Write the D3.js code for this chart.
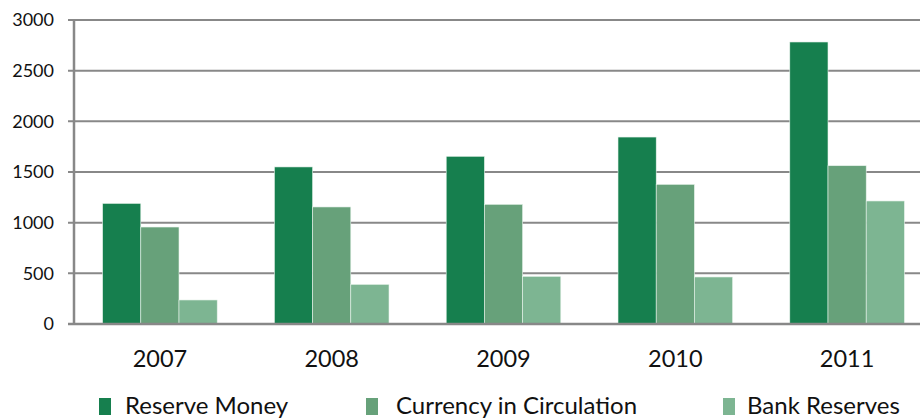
<!DOCTYPE html>
<html><head><meta charset="utf-8">
<script src="https://cdn.jsdelivr.net/npm/d3@7"></script>
<style>body{margin:0;background:#fff;overflow:hidden}svg{display:block}</style>
</head><body><svg id="c" width="920" height="418"></svg>
<script>
const categories = ["2007","2008","2009","2010","2011"];
const seriesNames = ["Reserve Money","Currency in Circulation","Bank Reserves"];
const reserveMoney = [1190, 1550, 1655, 1845, 2783];
const currencyInCirculation = [957, 1155, 1181, 1378, 1562];
const bankReserves = [237, 391, 470, 464, 1214];
const yTicks = [0, 500, 1000, 1500, 2000, 2500, 3000];
const colors = ["#167F4E", "#67A17A", "#7DB592"];

const series = [reserveMoney, currencyInCirculation, bankReserves];
const svg = d3.select("#c");
const font = "Lato, 'Open Sans', sans-serif";
const mLeft = 74, mRight = 933, mTop = 20, mBottom = 324;

const x = d3.scaleBand().domain(categories).range([mLeft, mRight]).paddingInner(0.333).paddingOuter(0.1665);
const xs = d3.scaleBand().domain(d3.range(series.length)).range([0, x.bandwidth()]);
const y = d3.scaleLinear().domain([0, 3000]).range([mBottom, mTop]);

// gridlines
svg.append("g").selectAll("line").data(yTicks.filter(d => d > 0)).join("line")
  .attr("x1", mLeft - 6).attr("x2", 920)
  .attr("y1", d => y(d)).attr("y2", d => y(d))
  .attr("stroke", "#888").attr("stroke-width", 2);

// bars
const g = svg.append("g");
categories.forEach((c, i) => {
  series.forEach((s, k) => {
    g.append("rect")
      .attr("x", x(c) + xs(k)).attr("width", xs.bandwidth())
      .attr("y", y(s[i])).attr("height", y(0) - y(s[i]))
      .attr("fill", colors[k]).attr("stroke", "#e8f3ec").attr("stroke-width", 0.6);
  });
});

// axes lines
svg.append("line").attr("x1", mLeft).attr("x2", mLeft).attr("y1", mTop - 1).attr("y2", mBottom + 1)
  .attr("stroke", "#888").attr("stroke-width", 2.5);
svg.append("line").attr("x1", mLeft - 6).attr("x2", 920).attr("y1", y(0)).attr("y2", y(0))
  .attr("stroke", "#888").attr("stroke-width", 2.5);

// y tick labels
svg.append("g").selectAll("text").data(yTicks).join("text")
  .attr("x", 54).attr("y", d => y(d)).attr("dy", "0.35em")
  .attr("text-anchor", "end").attr("font-family", font).attr("font-size", 18).attr("fill", "#111")
  .text(d => d);

// x labels
svg.append("g").selectAll("text").data(categories).join("text")
  .attr("x", d => x(d) + x.bandwidth() / 2).attr("y", 367)
  .attr("text-anchor", "middle").attr("font-family", font).attr("font-size", 23.5).attr("fill", "#111")
  .text(d => d);

// legend
const legX = [99, 366, 723];
const legTextX = [125, 396, 747];
const leg = svg.append("g");
seriesNames.forEach((n, k) => {
  leg.append("rect").attr("x", legX[k]).attr("y", 398).attr("width", 12).attr("height", 17).attr("fill", colors[k]);
  leg.append("text").attr("x", legTextX[k]).attr("y", 414)
    .attr("font-family", font).attr("font-size", 24).attr("fill", "#111").text(n);
});
</script></body></html>
